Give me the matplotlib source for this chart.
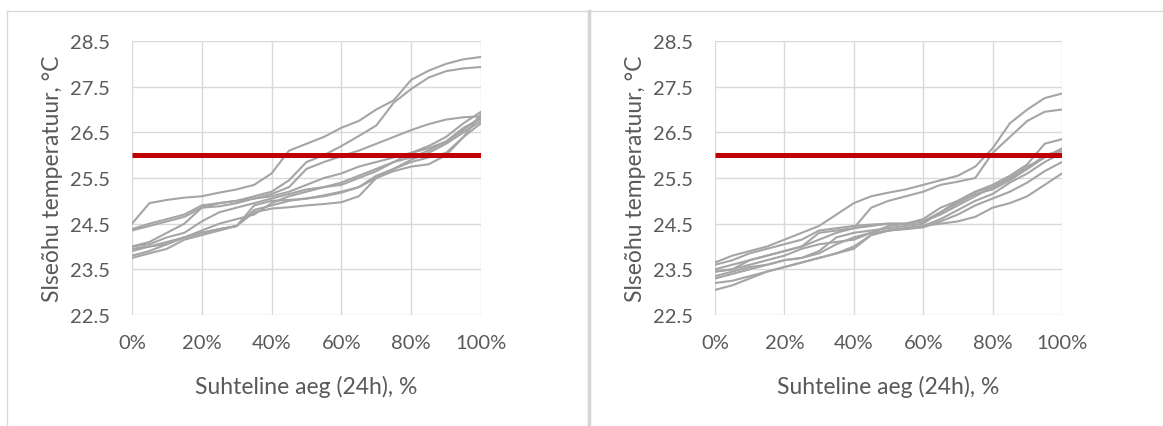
import matplotlib
matplotlib.use('Agg')
import matplotlib.pyplot as plt
from matplotlib.lines import Line2D

plt.rcParams['font.family'] = ['Lato', 'DejaVu Sans']

# relative time, % of 24h
time_pct = [0, 5, 10, 15, 20, 25, 30, 35, 40, 45, 50, 55, 60, 65, 70, 75, 80, 85, 90, 95, 100]

# sorted indoor air temperatures per room, case 1
left_rooms = [
    [24.50, 24.95, 25.02, 25.07, 25.10, 25.18, 25.25, 25.35, 25.60, 26.10, 26.25, 26.40, 26.60, 26.75, 27.00, 27.20, 27.65, 27.85, 28.00, 28.10, 28.15],
    [24.00, 24.10, 24.30, 24.50, 24.85, 24.95, 25.00, 25.10, 25.20, 25.45, 25.85, 26.00, 26.20, 26.42, 26.65, 27.15, 27.45, 27.70, 27.84, 27.90, 27.93],
    [24.35, 24.45, 24.55, 24.65, 24.85, 24.88, 24.95, 25.05, 25.15, 25.30, 25.70, 25.85, 25.98, 26.10, 26.25, 26.40, 26.55, 26.68, 26.78, 26.83, 26.85],
    [24.38, 24.50, 24.60, 24.70, 24.90, 24.95, 25.00, 25.05, 25.10, 25.20, 25.35, 25.50, 25.60, 25.75, 25.85, 25.95, 26.05, 26.20, 26.40, 26.70, 26.95],
    [23.75, 23.85, 23.95, 24.15, 24.25, 24.35, 24.45, 24.75, 24.83, 24.86, 24.90, 24.93, 24.97, 25.10, 25.50, 25.65, 25.75, 25.80, 26.00, 26.40, 26.70],
    [23.80, 23.90, 24.05, 24.20, 24.30, 24.38, 24.45, 24.80, 24.90, 25.00, 25.05, 25.12, 25.20, 25.30, 25.50, 25.70, 25.90, 26.05, 26.25, 26.50, 26.75],
    [23.95, 24.00, 24.10, 24.20, 24.35, 24.50, 24.60, 24.70, 24.95, 25.10, 25.20, 25.30, 25.40, 25.55, 25.70, 25.85, 25.95, 26.10, 26.30, 26.60, 26.80],
    [24.00, 24.05, 24.20, 24.30, 24.55, 24.75, 24.85, 24.95, 25.05, 25.15, 25.25, 25.30, 25.35, 25.50, 25.65, 25.85, 26.05, 26.15, 26.30, 26.55, 26.85],
    [23.90, 24.00, 24.05, 24.20, 24.30, 24.38, 24.45, 24.90, 25.00, 25.02, 25.05, 25.10, 25.18, 25.30, 25.55, 25.70, 25.85, 25.95, 26.05, 26.40, 26.90],
]

# sorted indoor air temperatures per room, case 2
right_rooms = [
    [23.65, 23.80, 23.90, 24.00, 24.15, 24.30, 24.45, 24.70, 24.95, 25.10, 25.18, 25.25, 25.35, 25.45, 25.55, 25.75, 26.15, 26.70, 27.00, 27.25, 27.35],
    [23.50, 23.60, 23.70, 23.80, 23.90, 24.00, 24.15, 24.30, 24.40, 24.85, 25.00, 25.10, 25.20, 25.35, 25.42, 25.50, 26.05, 26.40, 26.75, 26.95, 27.00],
    [23.45, 23.50, 23.60, 23.70, 23.80, 23.95, 24.05, 24.10, 24.15, 24.30, 24.45, 24.50, 24.60, 24.85, 25.00, 25.20, 25.35, 25.55, 25.80, 26.25, 26.35],
    [23.60, 23.70, 23.85, 23.95, 24.05, 24.15, 24.35, 24.40, 24.45, 24.48, 24.50, 24.50, 24.55, 24.70, 24.90, 25.10, 25.30, 25.50, 25.75, 25.95, 26.15],
    [23.30, 23.40, 23.50, 23.60, 23.70, 23.75, 23.90, 24.20, 24.30, 24.35, 24.40, 24.45, 24.50, 24.75, 24.95, 25.15, 25.25, 25.45, 25.70, 26.00, 26.10],
    [23.20, 23.25, 23.35, 23.45, 23.55, 23.65, 23.75, 23.85, 24.00, 24.25, 24.35, 24.40, 24.45, 24.60, 24.80, 25.00, 25.15, 25.40, 25.60, 25.85, 26.05],
    [23.05, 23.15, 23.30, 23.45, 23.55, 23.65, 23.75, 23.85, 23.95, 24.25, 24.35, 24.38, 24.42, 24.55, 24.70, 24.90, 25.05, 25.20, 25.40, 25.65, 25.85],
    [23.35, 23.45, 23.55, 23.60, 23.70, 23.75, 23.85, 24.05, 24.20, 24.30, 24.35, 24.40, 24.45, 24.50, 24.55, 24.65, 24.85, 24.95, 25.10, 25.35, 25.60],
    [23.45, 23.50, 23.70, 23.80, 23.90, 24.00, 24.30, 24.35, 24.40, 24.45, 24.50, 24.50, 24.55, 24.75, 25.00, 25.20, 25.30, 25.50, 25.70, 25.95, 26.10],
]

limit_temp = 26.0
y_ticks = [22.5, 23.5, 24.5, 25.5, 26.5, 27.5, 28.5]
x_ticks = [0, 20, 40, 60, 80, 100]
x_labels = ['0%', '20%', '40%', '60%', '80%', '100%']
x_title = 'Suhteline aeg (24h), %'
y_title = 'Slseõhu temperatuur, °C'

W, H = 1163, 427
fig = plt.figure(figsize=(W / 100, H / 100), dpi=100)

# chart area frames
fig.add_artist(Line2D([7 / W, 1], [1 - 12 / H, 1 - 12 / H], color='#d9d9d9', lw=1))
fig.add_artist(Line2D([7 / W, 7 / W], [0, 1 - 12 / H], color='#d9d9d9', lw=1))
fig.add_artist(Line2D([589 / W, 589 / W], [0, 1 - 12 / H], color='#d4d4d4', lw=2.5))

txt = '#595959'
grid_c = '#d9d9d9'
px_h = 274


def draw_panel(left_px, px_w, rooms):
    ax = fig.add_axes([left_px / W, 1 - 316 / H, px_w / W, px_h / H])
    for r in rooms:
        ax.plot(time_pct, r, color='#a5a5a5', lw=1.5, zorder=3)
    ax.plot([0, 100], [limit_temp, limit_temp], color='#c00000', lw=3.6, zorder=4,
            solid_capstyle='butt')
    ax.set_xlim(0, 100)
    ax.set_ylim(22.5, 28.5)
    ax.set_xticks(x_ticks)
    ax.set_xticklabels(x_labels)
    ax.set_yticks(y_ticks)
    ax.set_yticklabels([f'{v:.1f}' for v in y_ticks])
    ax.grid(True, color=grid_c, lw=1)
    for s in ax.spines.values():
        s.set_visible(False)
    ax.tick_params(length=0, labelsize=14.5, colors=txt)
    ax.tick_params(axis='y', pad=16)
    ax.tick_params(axis='x', pad=14)
    ax.set_xlabel(x_title, fontsize=16.5, color=txt, va='center')
    ax.set_ylabel(y_title, fontsize=16.5, color=txt, va='center')
    ax.xaxis.set_label_coords(0.5, -71 / px_h)
    ax.yaxis.set_label_coords(-79 / px_w, 0.5)
    return ax


draw_panel(132, 349, left_rooms)
draw_panel(715, 347, right_rooms)

fig.savefig('out.png', dpi=100)
